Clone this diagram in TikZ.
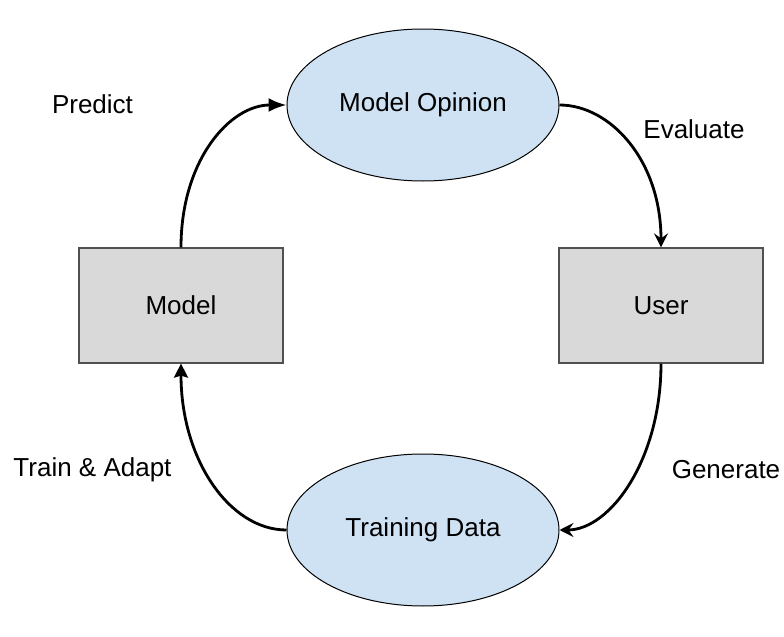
\documentclass[tikz,border=0pt]{standalone}
\usepackage{fontspec}
\setmainfont{Liberation Sans}
\usetikzlibrary{arrows.meta,shapes.geometric}
\begin{document}
\begin{tikzpicture}[x=0.5pt,y=-0.5pt,
  txt/.style={font=\fontsize{13}{15}\selectfont},
  ell/.style={ellipse,draw=black,line width=0.5pt,fill=blue!20!cyan!10!white,fill={rgb,255:red,207;green,226;blue,243},minimum width=136pt,minimum height=76pt,inner sep=0pt,txt},
  box/.style={rectangle,draw={rgb,255:red,80;green,80;blue,80},line width=0.6pt,fill={rgb,255:red,217;green,217;blue,217},minimum width=102pt,minimum height=57.5pt,inner sep=0pt,txt},
  conn/.style={line width=1.4pt},
  lab/.style={txt,inner sep=0pt}]
\useasboundingbox (0,0) rectangle (784,637);
\node[ell] (op) at (423,105) {Model Opinion};
\node[ell] (td) at (423,530) {Training Data};
\node[box] (model) at (181,305.5) {Model};
\node[box] (user) at (661,305.5) {User};
\draw[conn,-{Latex[length=9pt,width=7pt]}] (model.north) .. controls (181,160) and (230,105) .. (op.west);
\draw[conn,-{Stealth[length=7pt,width=7pt,inset=2.5pt]}] (op.east) .. controls (610,105) and (661,160) .. (user.north);
\draw[conn,-{Stealth[length=7pt,width=7pt,inset=2.5pt]}] (user.south) .. controls (661,460) and (610,530) .. (td.east);
\draw[conn,-{Stealth[length=7pt,width=7pt,inset=1pt]}] (td.west) .. controls (230,530) and (181,460) .. (model.south);
\node[lab] (lp) at (92.5,104) {Predict};
\node[lab] (le) at (694,129) {Evaluate};
\node[lab] (lg) at (726,470) {Generate};
\node[lab] (lt) at (92.5,470) {Train \& Adapt};
\end{tikzpicture}
\end{document}
